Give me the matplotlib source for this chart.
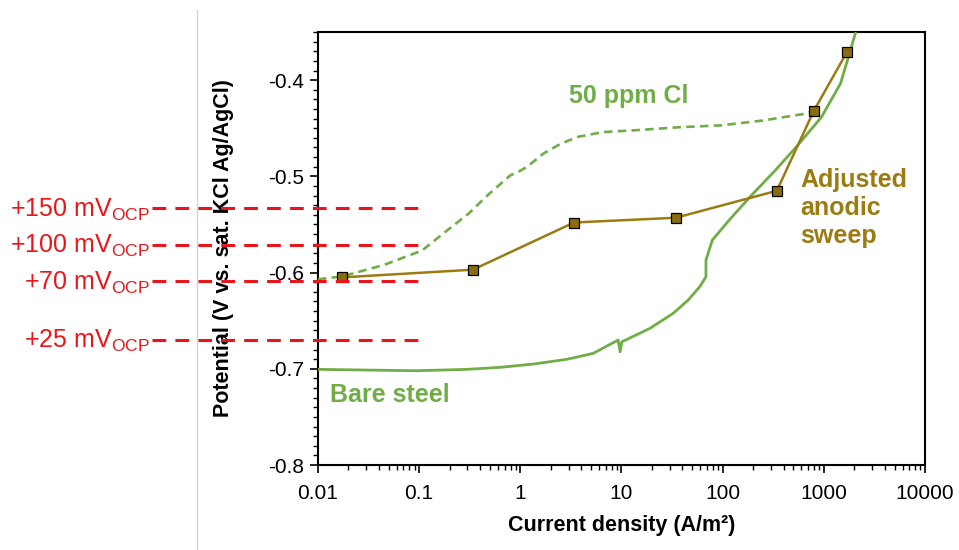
import matplotlib
matplotlib.use("Agg")
import matplotlib.pyplot as plt
import matplotlib.transforms as mtransforms
from matplotlib.lines import Line2D
from matplotlib.ticker import LogLocator, MultipleLocator, FuncFormatter

# --- data ---
# adjusted anodic sweep (markers)
sweep_i = [0.0173, 0.34, 3.39, 34.5, 343, 796, 1690]
sweep_e = [-0.605, -0.597, -0.548, -0.543, -0.515, -0.432, -0.371]

# 50 ppm Cl polarisation curve (dashed)
cl_i = [0.0100, 0.0173, 0.0451, 0.107, 0.190, 0.306, 0.494, 0.796, 0.966,
        1.17, 1.71, 2.52, 3.69, 6.55, 14.1, 36.7, 95.8, 249, 649, 796]
cl_e = [-0.607, -0.604, -0.592, -0.577, -0.556, -0.539, -0.518, -0.499, -0.495,
        -0.490, -0.476, -0.466, -0.459, -0.454, -0.452, -0.449, -0.447, -0.442,
        -0.435, -0.432]

# bare steel polarisation curve (solid)
bare_i = [0.0101, 0.0303, 0.0944, 0.294, 0.628, 1.34, 2.86, 5.25, 9.27, 9.70,
          10.1, 19.1, 32.4, 45.6, 59.3, 68.4, 68.4, 79.1, 116, 187, 333, 536,
          953, 1465, 2051]
bare_e = [-0.7006, -0.7013, -0.7020, -0.7006, -0.6985, -0.6951, -0.6902, -0.6840,
          -0.6701, -0.6823, -0.6719, -0.6580, -0.6424, -0.6286, -0.6148, -0.6044,
          -0.5870, -0.5662, -0.5455, -0.5212, -0.4935, -0.4693, -0.4381, -0.4034,
          -0.3515]

# OCP offset levels (red dashed guides)
ocp_labels = ["+150", "+100", "+70", "+25"]
ocp_levels = [-0.533, -0.571, -0.609, -0.670]

x_ticks = [0.01, 0.1, 1, 10, 100, 1000, 10000]
y_ticks = [-0.8, -0.7, -0.6, -0.5, -0.4]

GREEN = "#70AD47"
OLIVE = "#9C7B12"
RED = "#E8161B"

plt.rcParams["font.family"] = ["Liberation Sans", "DejaVu Sans"]
plt.rcParams["axes.unicode_minus"] = False


def main():
    fig = plt.figure(figsize=(9.59, 5.5), dpi=100)
    ax = fig.add_axes([0.3316, 0.1545, 0.6329, 0.7873])

    # curves
    ax.plot(bare_i, bare_e, "-", color=GREEN, linewidth=2.0, zorder=3)
    ax.plot(cl_i, cl_e, color=GREEN, linewidth=1.9, dashes=(3.2, 2.0), zorder=3)
    ax.plot(sweep_i, sweep_e, "-", color=OLIVE, linewidth=1.8,
            marker="s", markersize=6.5, markerfacecolor="#8A6C10",
            markeredgecolor="black", markeredgewidth=0.9, zorder=4)

    # red guide lines + labels, reaching out of the axes to the left
    trans = mtransforms.blended_transform_factory(ax.transAxes, ax.transData)
    for lab, lev in zip(ocp_labels, ocp_levels):
        ax.plot([-0.2735, 0.168], [lev, lev], transform=trans, color=RED,
                linewidth=2.2, dashes=(4.5, 3.0), clip_on=False, zorder=5)
        ax.annotate(lab + r" mV$_\mathregular{OCP}$", xy=(-0.2768, lev),
                    xycoords=trans, xytext=(0, -6), textcoords="offset points",
                    ha="right", va="baseline", fontsize=18, color=RED,
                    annotation_clip=False)

    # text annotations
    ax.text(0.4135, 0.852, "50 ppm Cl", transform=ax.transAxes, color=GREEN,
            fontsize=18, fontweight="bold", ha="left", va="center")
    ax.text(0.0198, 0.1617, "Bare steel", transform=ax.transAxes, color=GREEN,
            fontsize=18, fontweight="bold", ha="left", va="center")
    ax.text(0.794, 0.594, "Adjusted\nanodic\nsweep", transform=ax.transAxes,
            color=OLIVE, fontsize=18, fontweight="bold", ha="left", va="center",
            linespacing=1.22)

    # axes
    ax.set_xscale("log")
    ax.set_xlim(0.01, 10000)
    ax.set_ylim(-0.8, -0.35)
    ax.set_xticks(x_ticks)
    ax.xaxis.set_major_formatter(FuncFormatter(lambda v, p: "%g" % v))
    ax.xaxis.set_minor_locator(LogLocator(base=10, subs=range(2, 10), numticks=20))
    ax.set_yticks(y_ticks)
    ax.yaxis.set_major_formatter(FuncFormatter(lambda v, p: "%.1f" % v))
    ax.yaxis.set_minor_locator(MultipleLocator(0.01))

    ax.tick_params(axis="both", which="major", direction="out", length=6,
                   width=1.2, labelsize=15)
    ax.tick_params(axis="both", which="minor", direction="out", length=3.5,
                   width=1.0)
    ax.tick_params(axis="x", which="major", pad=8)
    ax.tick_params(axis="y", which="major", pad=4)
    for sp in ax.spines.values():
        sp.set_linewidth(1.5)

    ax.set_xlabel("Current density (A/m²)", fontsize=15.5, fontweight="bold",
                  labelpad=8)
    ax.set_ylabel("Potential (V vs. sat. KCl Ag/AgCl)", fontsize=15.5,
                  fontweight="bold")
    ax.yaxis.set_label_coords(-0.138, 0.5)

    # thin grey slide divider on the left
    fig.add_artist(Line2D([0.2054, 0.2054], [0.0, 0.982], color="#D5D5D5",
                          linewidth=1.0, transform=fig.transFigure))

    fig.savefig("out.png", dpi=100)
    plt.close(fig)


if __name__ == "__main__":
    main()
